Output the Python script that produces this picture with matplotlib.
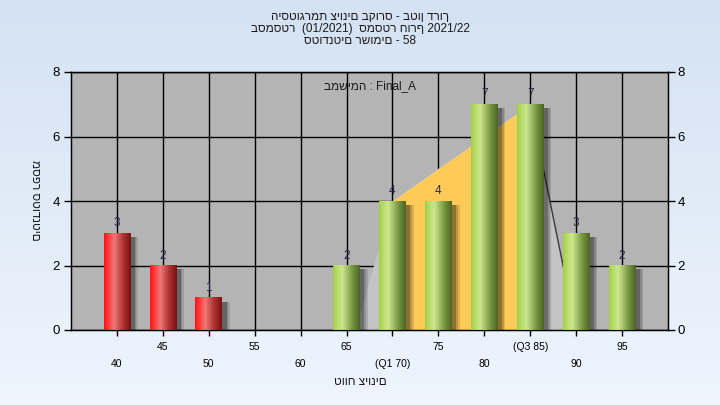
import numpy as np
import matplotlib.pyplot as plt
from matplotlib.colors import to_rgb
from matplotlib.patches import Rectangle, Polygon

plt.rcParams['font.family'] = ['Liberation Sans', 'DejaVu Sans']

# data
grades = [40, 45, 50, 55, 60, 65, 70, 75, 80, 85, 90, 95]
counts = [3, 2, 1, 0, 0, 2, 4, 4, 7, 7, 3, 2]
tick_labels = ['40', '45', '50', '55', '60', '65', '(Q1 70)', '75', '80', '(Q3 85)', '90', '95']
pass_grade = 55
q1, q3 = 70, 85
curve_x = [66, 70, 85, 90]
curve_y = [0, 4, 7, 0]

title_lines = ['היסטוגרמת ציונים בקורס - בטון דרוך',
               'בסמסטר  (01/2021)  סמסטר חורף 2021/22',
               'סטודנטים רשומים - 58']
task_text = 'במשימה : Final_A'
x_title = 'טווח ציונים'
y_title = 'מספר סטודנטים'


def gradient(stops, n=64):
    t = np.linspace(0, 1, n)
    pos = [s[0] for s in stops]
    cols = np.array([to_rgb(s[1]) for s in stops])
    rgb = np.stack([np.interp(t, pos, cols[:, k]) for k in range(3)], axis=1)
    return rgb[np.newaxis, :, :]


red_grad = gradient([(0, '#ff1414'), (0.12, '#ff3030'), (0.38, '#f07878'),
                     (0.7, '#b03434'), (1, '#7a1010')])
green_grad = gradient([(0, '#a4cc4c'), (0.12, '#b4da60'), (0.35, '#cce690'),
                       (0.7, '#7c9a44'), (1, '#4c6624')])

fig = plt.figure(figsize=(7.2, 4.05), dpi=100)

# background gradient of the whole figure
bg = fig.add_axes([0, 0, 1, 1], zorder=-10)
bg.imshow(gradient([(0, '#d4e2f3'), (1, '#eef5fd')])[0][:, np.newaxis, :],
          extent=[0, 1, 0, 1], aspect='auto', origin='upper')
bg.axis('off')

ax = fig.add_axes([71 / 720, 75 / 405, 597 / 720, 258 / 405])
ax.set_facecolor('#b4b4b4')

width = 2.9

# area behind the bars, quartile part in yellow
ax.add_patch(Polygon(list(zip(curve_x, curve_y)), closed=True,
                     facecolor='#c3c3c3', edgecolor='none', zorder=1))
ax.fill_between([q1, q3], [np.interp(q1, curve_x, curve_y), np.interp(q3, curve_x, curve_y)],
                color='#ffcb58', lw=0, zorder=1.5)
ax.plot(curve_x[2:], curve_y[2:], color='#3a3a3a', lw=1, zorder=1.6)

for g, c in zip(grades, counts):
    if c == 0:
        continue
    x0 = g - width / 2
    # soft shadow on the right
    for k, a in enumerate([0.12, 0.15, 0.25]):
        ax.add_patch(Rectangle((x0 + 0.3, 0), width + 0.55 - 0.18 * k, c - 0.12,
                               facecolor='black', alpha=a, lw=0, zorder=2))
    img = red_grad if g < pass_grade else green_grad
    ax.imshow(img, extent=[x0, x0 + width, 0, c], aspect='auto', zorder=3)
    ax.text(g, c + 0.12, str(c), ha='center', va='bottom', fontsize=8.5,
            color='#2a2a48', zorder=4)

ax.set_xlim(35, 100)
ax.set_ylim(0, 8)

ax.set_xticks(grades)
ax.set_xticklabels(tick_labels, fontsize=7.5)
ax.set_yticks([0, 2, 4, 6, 8])
ax.tick_params(axis='y', labelsize=9.5, length=5, width=1, pad=3)
ax.tick_params(axis='x', length=4, width=1)
for i, t in enumerate(ax.xaxis.get_major_ticks()):
    t.set_pad(5 if i % 2 == 1 else 17)
ax.grid(True, color='black', lw=1, zorder=0)
ax.set_axisbelow(True)
for s in ax.spines.values():
    s.set_color('black')
    s.set_linewidth(1)

ax2 = ax.twinx()
ax2.set_ylim(0, 8)
ax2.set_yticks([0, 2, 4, 6, 8])
ax2.tick_params(axis='y', labelsize=9.5, length=5, width=1, pad=2)

ax.text(0.5, 0.945, task_text, transform=ax.transAxes, ha='center', va='center',
        fontsize=8.5, color='#1a1a1a', zorder=5)

for i, line in enumerate(title_lines):
    fig.text(0.5, 1 - (17 + 12 * i) / 405, line, ha='center', va='center',
             fontsize=8.5, color='#1a1a1a')

fig.text(0.5, 1 - 382 / 405, x_title, ha='center', va='center', fontsize=8.5, color='#1a1a1a')
fig.text(35 / 720, 1 - 200 / 405, y_title, ha='center', va='center', fontsize=8.5,
         rotation=270, color='#1a1a1a')

fig.savefig('out.png', dpi=100)
